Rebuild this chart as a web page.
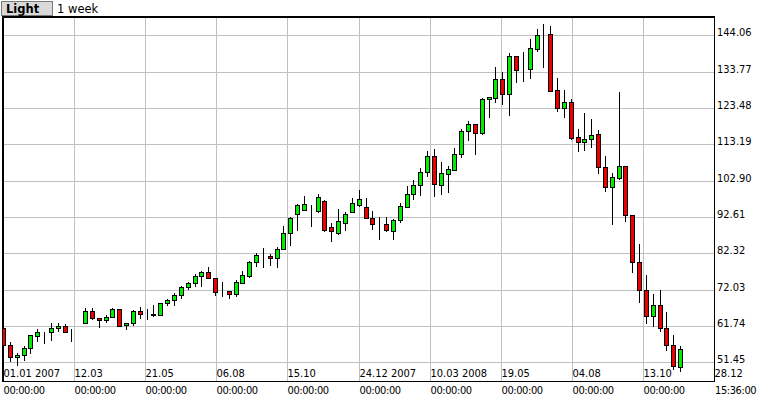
<!DOCTYPE html>
<html>
<head>
<meta charset="utf-8">
<script src="https://cdn.jsdelivr.net/npm/d3@7"></script>
<style>
  body { margin: 0; background: #ffffff; }
  svg { display: block; }
</style>
</head>
<body>
<div id="chart"></div>
<script>
// weekly candles, first week starts 01.01.2007
var opens = [
  61.13, 56.40, 52.93, 53.49, 55.47, 59.04, 60.00, 60.00, 61.22, 61.79,
  60.00, 59.72, 62.55, 66.03, 63.96, 63.40, 64.25, 66.51, 61.98, 62.55,
  66.03, 65.75, 65.18, 64.81, 68.21, 69.06, 70.47, 72.74, 73.82, 75.80,
  77.07, 75.32, 71.64, 71.61, 70.70, 74.04, 76.02, 79.82, 81.68, 81.51,
  80.95, 83.58, 88.02, 93.40, 94.53, 93.97, 94.42, 97.08, 89.72, 88.02,
  90.86, 94.14, 96.03, 95.38, 92.44, 90.80, 90.57, 88.53, 91.73, 95.33,
  99.06, 101.55, 105.29, 109.82, 101.78, 104.89, 106.03, 110.47, 116.90, 118.88,
  116.50, 125.95, 126.41, 131.61, 127.37, 138.21, 134.61, 134.61, 140.28, 144.30,
  144.35, 128.50, 123.41, 125.10, 115.28, 113.78, 114.63, 116.05, 106.71, 101.04,
  103.76, 107.07, 93.12, 79.82, 71.89, 64.62, 67.64, 61.13, 56.40, 50.27
];
var highs = [
  61.20, 57.26, 54.06, 56.12, 59.30, 60.85, 60.10, 62.55, 62.55, 62.35,
  60.94, 59.72, 66.88, 66.80, 64.14, 64.81, 66.80, 66.60, 62.72, 66.31,
  67.25, 66.60, 67.73, 68.30, 69.51, 71.21, 73.11, 74.32, 76.50, 77.44,
  78.51, 75.40, 74.32, 71.70, 74.72, 77.21, 80.10, 82.36, 83.86, 82.08,
  84.06, 90.09, 92.72, 96.31, 98.58, 96.03, 99.15, 97.45, 90.86, 94.82,
  94.05, 97.93, 100.28, 97.93, 94.33, 92.72, 92.72, 92.07, 96.54, 101.47,
  103.11, 106.51, 111.32, 111.89, 108.12, 107.00, 112.25, 117.63, 119.81, 118.90,
  126.24, 126.60, 135.10, 133.77, 139.06, 138.30, 139.34, 143.10, 145.94, 147.27,
  146.70, 131.90, 128.59, 126.04, 117.55, 121.99, 120.38, 117.26, 109.90, 105.01,
  128.10, 107.10, 93.12, 85.00, 76.22, 70.84, 71.98, 65.75, 59.24, 56.12
];
var lows = [
  55.19, 51.45, 50.55, 51.96, 53.77, 57.34, 56.61, 57.62, 60.17, 59.72,
  57.34, 59.72, 62.45, 63.48, 61.30, 62.55, 64.20, 61.59, 60.65, 61.87,
  63.77, 63.50, 64.42, 64.76, 67.53, 67.53, 69.51, 71.98, 72.91, 72.91,
  75.00, 70.36, 70.08, 69.35, 70.08, 73.76, 75.46, 78.49, 78.29, 78.85,
  78.29, 83.50, 84.52, 88.76, 94.34, 89.89, 93.86, 88.31, 85.65, 87.46,
  88.76, 93.86, 95.55, 92.07, 88.96, 86.13, 88.39, 86.13, 90.80, 95.04,
  97.45, 98.67, 104.05, 98.38, 98.95, 99.52, 105.74, 109.34, 114.24, 110.27,
  115.93, 120.75, 124.99, 124.34, 121.31, 130.65, 130.85, 131.78, 139.26, 134.90,
  128.10, 122.44, 120.58, 114.43, 111.12, 111.40, 112.25, 104.81, 99.80, 90.46,
  103.11, 91.31, 76.87, 68.38, 62.35, 61.42, 60.00, 54.79, 49.33, 48.85
];
var closes = [
  56.40, 52.93, 53.58, 55.47, 59.24, 60.00, 60.00, 61.13, 61.79, 60.00,
  60.00, 59.72, 66.03, 63.96, 63.40, 64.25, 66.51, 61.79, 62.55, 66.03,
  65.18, 65.75, 64.90, 68.21, 69.14, 70.56, 72.82, 73.90, 75.94, 77.07,
  75.23, 71.49, 71.64, 70.76, 74.16, 76.14, 79.82, 81.80, 81.68, 80.95,
  83.66, 88.02, 92.27, 96.03, 96.23, 93.97, 98.21, 88.87, 88.59, 91.42,
  93.40, 96.52, 97.65, 92.36, 90.57, 90.80, 88.82, 91.79, 95.61, 99.09,
  101.70, 105.23, 109.85, 101.89, 105.01, 106.23, 110.47, 116.98, 118.88, 116.50,
  126.04, 126.52, 131.61, 127.37, 138.21, 134.33, 134.61, 140.39, 144.15, 144.30,
  128.39, 123.41, 125.10, 115.08, 113.78, 114.63, 115.76, 106.71, 101.04, 103.87,
  106.99, 93.12, 79.82, 71.89, 64.62, 67.64, 61.13, 56.32, 50.46, 55.19
];

var y_ticks = [51.45, 61.74, 72.03, 82.32, 92.61, 102.90, 113.19, 123.48, 133.77, 144.06];
var date_labels = ["01.01 2007", "12.03", "21.05", "06.08", "15.10",
  "24.12 2007", "10.03 2008", "19.05", "04.08", "13.10"];
var time_labels = ["00:00:00", "00:00:00", "00:00:00", "00:00:00", "00:00:00",
  "00:00:00", "00:00:00", "00:00:00", "00:00:00", "00:00:00"];
var end_date_label = "28.12", end_time_label = "15:36:00";

var width = 758, height = 398;
var margins = { top: 17, right: 44, bottom: 17, left: 3 };
var font = "'DejaVu Sans Condensed', 'DejaVu Sans', sans-serif";

var start = new Date(2007, 0, 1),
  end = new Date(2008, 11, 28, 15, 36);

var data = opens.map((o, i) => ({
  date: d3.timeDay.offset(start, 7 * i),
  open: o,
  high: highs[i],
  low: lows[i],
  close: closes[i],
}));

var x = d3
  .scaleTime()
  .domain([start, end])
  .range([margins.left, width - margins.right]);

var y = d3
  .scaleLinear()
  .domain([46.21, 149.24])
  .range([height - margins.bottom, margins.top]);

var svg = d3
  .select("#chart")
  .append("svg")
  .attr("width", width)
  .attr("height", height)
  .attr("viewBox", [0, 0, width, height])
  .style("font-family", font);

svg
  .append("defs")
  .append("clipPath")
  .attr("id", "plot-clip")
  .append("rect")
  .attr("x", margins.left)
  .attr("y", margins.top)
  .attr("width", width - margins.right - margins.left)
  .attr("height", height - margins.bottom - margins.top);

// Header
svg
  .append("rect")
  .attr("x", 1.5)
  .attr("y", 1.5)
  .attr("width", 51)
  .attr("height", 14)
  .attr("fill", "#d9d9d9")
  .attr("stroke", "#7a7a7a");

svg
  .append("text")
  .attr("x", 6)
  .attr("y", 13)
  .attr("font-family", "'DejaVu Sans', sans-serif")
  .attr("font-size", "11.5px")
  .attr("font-weight", "bold")
  .text("Light");

svg
  .append("text")
  .attr("x", 57)
  .attr("y", 13)
  .attr("font-family", "'DejaVu Sans', sans-serif")
  .attr("font-size", "11.5px")
  .text("1 week");

// Grid: the time span is cut into 10 equal parts
var grid_dates = d3
  .range(10)
  .map((j) => new Date(+start + (j * (end - start)) / 10));

svg
  .append("g")
  .selectAll("line")
  .data(grid_dates.slice(1))
  .enter()
  .append("line")
  .attr("x1", (d) => Math.round(x(d)) + 0.5)
  .attr("x2", (d) => Math.round(x(d)) + 0.5)
  .attr("y1", margins.top)
  .attr("y2", height - margins.bottom)
  .attr("stroke", "#c0c0c0");

svg
  .append("g")
  .selectAll("line")
  .data(y_ticks)
  .enter()
  .append("line")
  .attr("x1", margins.left)
  .attr("x2", width - margins.right)
  .attr("y1", (d) => Math.round(y(d)) + 0.5)
  .attr("y2", (d) => Math.round(y(d)) + 0.5)
  .attr("stroke", "#c0c0c0");

// Frame (top and left edges are doubled)
svg
  .append("rect")
  .attr("x", margins.left - 0.5)
  .attr("y", margins.top - 0.5)
  .attr("width", width - margins.right - margins.left + 1)
  .attr("height", height - margins.bottom - margins.top + 1)
  .attr("fill", "none")
  .attr("stroke", "#000000");

svg
  .append("path")
  .attr(
    "d",
    `M${margins.left + 0.5},${height - margins.bottom}V${margins.top + 0.5}H${width - margins.right}`
  )
  .attr("fill", "none")
  .attr("stroke", "#000000");

// Candles
var candles = svg
  .append("g")
  .attr("clip-path", "url(#plot-clip)")
  .selectAll("g")
  .data(data)
  .enter()
  .append("g");

candles
  .append("line")
  .attr("x1", (d) => Math.round(x(d.date)) + 0.5)
  .attr("x2", (d) => Math.round(x(d.date)) + 0.5)
  .attr("y1", (d) => Math.round(y(d.high)))
  .attr("y2", (d) => Math.round(y(d.low)))
  .attr("stroke", "#000000");

candles
  .append("rect")
  .attr("x", (d) => Math.round(x(d.date)) - 1.5)
  .attr("y", (d) => Math.round(y(Math.max(d.open, d.close))) + 0.5)
  .attr("width", 4)
  .attr(
    "height",
    (d) =>
      Math.round(y(Math.min(d.open, d.close))) -
      Math.round(y(Math.max(d.open, d.close)))
  )
  .attr("fill", (d) => (d.close >= d.open ? "#00ee00" : "#ee0000"))
  .attr("stroke", "#000000");

// Date labels inside the plot, times underneath
svg
  .append("g")
  .selectAll("text")
  .data(date_labels)
  .enter()
  .append("text")
  .attr("x", (d, i) => Math.round(x(grid_dates[i])) + 0.5)
  .attr("y", height - margins.bottom - 4)
  .attr("font-size", "11px")
  .attr("fill", "#000000")
  .text((d) => d);

svg
  .append("g")
  .selectAll("text")
  .data(time_labels)
  .enter()
  .append("text")
  .attr("x", (d, i) => Math.round(x(grid_dates[i])) + 0.5)
  .attr("y", height - 4)
  .attr("font-size", "11px")
  .attr("letter-spacing", "-0.4px")
  .attr("fill", "#000000")
  .text((d) => d);

svg
  .append("text")
  .attr("x", width - margins.right + 0.5)
  .attr("y", height - margins.bottom - 4)
  .attr("font-size", "11px")
  .text(end_date_label);

svg
  .append("text")
  .attr("x", width - margins.right + 1)
  .attr("y", height - 4)
  .attr("font-size", "11px")
  .attr("letter-spacing", "-0.4px")
  .text(end_time_label);

// Price labels on the right
svg
  .append("g")
  .selectAll("text")
  .data(y_ticks)
  .enter()
  .append("text")
  .attr("x", width - margins.right + 3)
  .attr("y", (d) => Math.round(y(d)) + 1)
  .attr("font-size", "11px")
  .attr("fill", "#000000")
  .text((d) => d3.format(".2f")(d));
</script>
</body>
</html>
